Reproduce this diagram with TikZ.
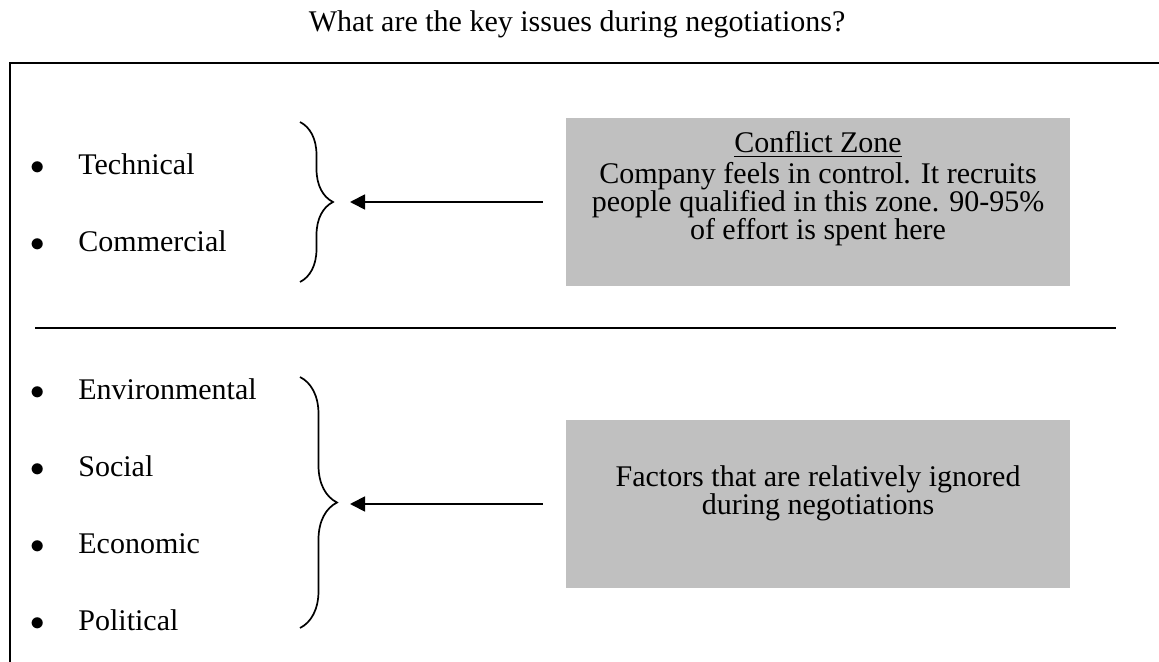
\documentclass[tikz,border=0pt]{standalone}
\usepackage{fontspec}
\setmainfont{Liberation Serif}
\usetikzlibrary{arrows.meta,decorations.pathreplacing,positioning}

\definecolor{zonegray}{RGB}{192,192,192}

\tikzset{
  txt/.style={inner sep=0pt, font=\fontsize{15}{14}\selectfont},
  item/.style={txt, anchor=base west},
  dot/.style={txt, anchor=base},
  zone/.style={fill=zonegray, draw=none, inner sep=0pt,
    minimum width=252pt, minimum height=84pt},
  zonetext/.style={txt, align=center},
  curly/.style={decorate, line width=0.85pt,
    decoration={brace, amplitude=#1}},
  pointer/.style={-{Triangle[length=7.5pt,width=7.5pt]}, line width=0.9pt},
  frame/.style={line width=1.1pt}
}

\begin{document}
\begin{tikzpicture}[x=0.5pt,y=-0.5pt]
\useasboundingbox (0,0) rectangle (1159,662);

\node[txt, anchor=base] (title) at (577,32) {What are the key issues during negotiations?};

% frame and divider
\draw[frame] (10,662) -- (10,63) -- (1159,63);
\draw[frame] (35,328) -- (1116,328);

% upper list
\node[dot]  (dotA) at (38,175) {$\bullet$};
\node[item] (tech) at (78,175) {Technical};
\node[dot]  (dotB) at (38,252) {$\bullet$};
\node[item] (comm) at (78,252) {Commercial};

% lower list
\node[dot]  (dotC) at (38,399) {$\bullet$};
\node[item] (env)  at (78,399) {Environmental};
\node[dot]  (dotD) at (38,476) {$\bullet$};
\node[item] (soc)  at (78,476) {Social};
\node[dot]  (dotE) at (38,553) {$\bullet$};
\node[item] (eco)  at (78,553) {Economic};
\node[dot]  (dotF) at (38,630) {$\bullet$};
\node[item] (pol)  at (78,630) {Political};

% braces
\draw[curly=16.5pt] (300,122) -- (300,282);
\draw[curly=18.5pt] (300,377) -- (300,628);
\coordinate (tipA) at (350,202);
\coordinate (tipB) at (350,504);

% grey boxes
\node[zone] (zoneA) at (818,202) {};
\node[zonetext] (zoneAtext) at (818,189)
  {\underline{Conflict Zone}\\[1.5pt]Company feels in control. It recruits\\
   people qualified in this zone. 90-95\%\\of effort is spent here};
\node[zone] (zoneB) at (818,504) {};
\node[zonetext] (zoneBtext) at (818,493)
  {Factors that are relatively ignored\\during negotiations};

% arrows
\draw[pointer] ([xshift=-11.5pt]zoneA.west) -- (tipA);
\draw[pointer] ([xshift=-11.5pt]zoneB.west) -- (tipB);
\end{tikzpicture}
\end{document}
